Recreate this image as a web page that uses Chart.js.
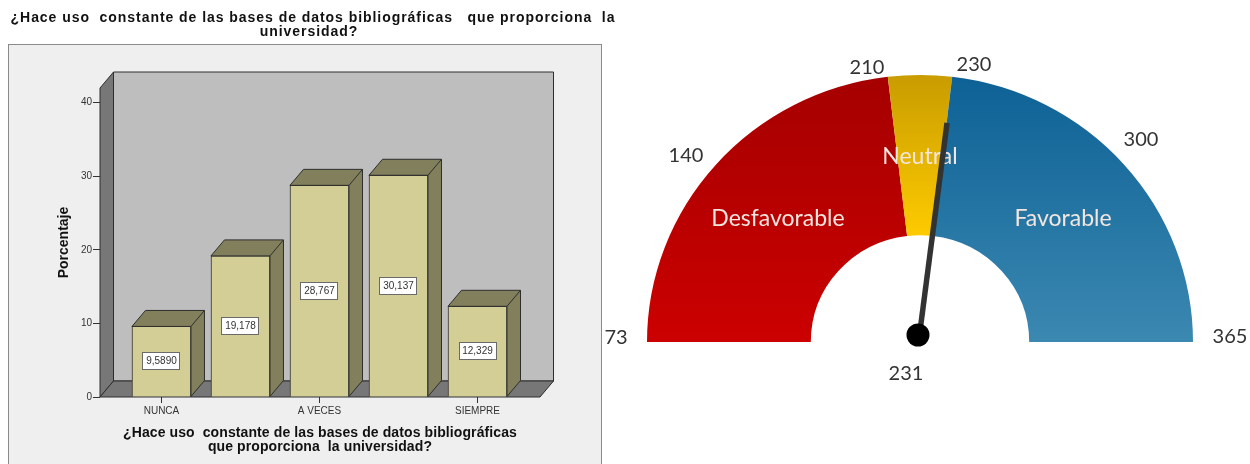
<!DOCTYPE html>
<html>
<head>
<meta charset="utf-8">
<script src="https://cdn.jsdelivr.net/npm/chart.js@4"></script>
<style>
  html, body { margin: 0; padding: 0; background: #fff; overflow: hidden; }
  canvas { position: absolute; top: 0; }
  #barChart { left: 0; }
  #gaugeChart { left: 600px; }
</style>
</head>
<body>
<canvas id="barChart" width="620" height="464"></canvas>
<canvas id="gaugeChart" width="650" height="464"></canvas>
<script>
// Bar chart data
const categories = ['NUNCA', '', 'A VECES', '', 'SIEMPRE'];
const percentages = [9.589, 19.178, 28.767, 30.137, 12.329];
const barTicks = [0, 2, 4];
const chartTitle = ['¿Hace uso  constante de las bases de datos bibliográficas   que proporciona  la', 'universidad?'];
const xTitle = ['¿Hace uso  constante de las bases de datos bibliográficas', 'que proporciona  la universidad?'];
const yTitle = 'Porcentaje';

// Gauge data
const gaugeNames = ['Desfavorable', 'Neutral', 'Favorable'];
const gaugeSpans = [135, 22, 135];
const gaugeMin = 73;
const gaugeMax = 365;
const gaugeValue = 231;
const gaugeTickLabels = ['73', '140', '210', '230', '300', '365', '231'];

// Pixel spots of the gauge texts, relative to the gauge centre
const tickSpots = [[-304, -4], [-234, -186], [-53, -274], [54, -277], [221, -202], [310, -5], [-14, 32]];
const nameSpots = [[-142, -123], [0, -185], [143, -123]];

const depthX = 13.5, depthY = 16;
const sans = '"Liberation Sans", Arial, sans-serif';

// Panel, back wall, side wall and floor behind the bars
const wallsPlugin = {
    id: 'walls',
    beforeDraw(chart) {
        const ctx = chart.ctx;
        ctx.save();
        ctx.fillStyle = '#efefef';
        ctx.strokeStyle = '#8a8a8a';
        ctx.lineWidth = 1;
        ctx.fillRect(8.5, 44.5, 593, 430);
        ctx.strokeRect(8.5, 44.5, 593, 430);
        ctx.restore();
    },
    beforeDatasetsDraw(chart) {
        const { ctx, chartArea: a } = chart;
        const poly = (pts, fill) => {
            ctx.beginPath();
            pts.forEach((p, i) => i ? ctx.lineTo(p[0], p[1]) : ctx.moveTo(p[0], p[1]));
            ctx.closePath();
            ctx.fillStyle = fill;
            ctx.fill();
            ctx.stroke();
        };
        ctx.save();
        ctx.strokeStyle = '#2e2e2e';
        ctx.lineWidth = 1;
        poly([[a.left + depthX, a.top - depthY], [a.right + depthX, a.top - depthY],
              [a.right + depthX, a.bottom - depthY], [a.left + depthX, a.bottom - depthY]], '#bebebe');
        poly([[a.left, a.top], [a.left + depthX, a.top - depthY],
              [a.left + depthX, a.bottom - depthY], [a.left, a.bottom]], '#777777');
        poly([[a.left, a.bottom], [a.left + depthX, a.bottom - depthY],
              [a.right + depthX, a.bottom - depthY], [a.right, a.bottom]], '#777777');
        ctx.restore();
    }
};

// Top and side faces of each bar, then the value box in its middle
const barFacesPlugin = {
    id: 'barFaces',
    afterDatasetsDraw(chart) {
        const ctx = chart.ctx;
        ctx.save();
        ctx.strokeStyle = '#2e2e2e';
        ctx.lineWidth = 1;
        chart.getDatasetMeta(0).data.forEach((bar, i) => {
            const l = bar.x - bar.width / 2, r = bar.x + bar.width / 2;
            const t = bar.y, b = bar.base;
            ctx.fillStyle = '#827f5c';
            ctx.beginPath();
            ctx.moveTo(l, t);
            ctx.lineTo(l + depthX, t - depthY);
            ctx.lineTo(r + depthX, t - depthY);
            ctx.lineTo(r + depthX, b - depthY);
            ctx.lineTo(r, b);
            ctx.lineTo(r, t);
            ctx.closePath();
            ctx.fill();
            ctx.stroke();
            ctx.beginPath();
            ctx.moveTo(r, t);
            ctx.lineTo(r + depthX, t - depthY);
            ctx.stroke();

            const text = percentages[i].toPrecision(5).replace('.', ',');
            const my = Math.round((t + b) / 2);
            ctx.fillStyle = '#fff';
            ctx.strokeStyle = '#6a6a6a';
            ctx.fillRect(Math.round(bar.x) - 18.5, my - 8.5, 37, 17);
            ctx.strokeRect(Math.round(bar.x) - 18.5, my - 8.5, 37, 17);
            ctx.strokeStyle = '#2e2e2e';
            ctx.fillStyle = '#333';
            ctx.font = '10px ' + sans;
            ctx.textAlign = 'center';
            ctx.textBaseline = 'middle';
            ctx.fillText(text, bar.x, my + 0.5);
        });
        ctx.restore();
    }
};

// Titles: the picture's text is stretched wide, Chart.js has no letter spacing option
const titlesPlugin = {
    id: 'titles',
    afterDraw(chart) {
        const { ctx, chartArea: a } = chart;
        const midX = (a.left + a.right) / 2;
        ctx.save();
        ctx.fillStyle = '#111';
        ctx.font = 'bold 14px ' + sans;
        ctx.textAlign = 'center';
        ctx.textBaseline = 'middle';
        ctx.letterSpacing = '0.95px';
        ctx.fillText(chartTitle[0], 313, 18);
        ctx.fillText(chartTitle[1], 309, 32.5);
        ctx.letterSpacing = '0.1px';
        ctx.fillText(xTitle[0], midX, 433);
        ctx.fillText(xTitle[1], midX, 447);
        ctx.translate(64.5, (a.top + a.bottom) / 2);
        ctx.rotate(-Math.PI / 2);
        ctx.letterSpacing = '0px';
        ctx.fillText(yTitle, 0, 0);
        ctx.restore();
    }
};

new Chart(document.getElementById('barChart'), {
    type: 'bar',
    data: {
        datasets: [{
            data: percentages.map((v, i) => ({ x: i, y: v })),
            backgroundColor: '#d3cd96',
            borderColor: '#2e2e2e',
            borderWidth: 1,
            barThickness: 59
        }]
    },
    options: {
        responsive: false,
        animation: false,
        layout: { padding: { left: 57, right: 80, top: 88, bottom: 0 } },
        plugins: {
            legend: { display: false },
            tooltip: { enabled: false }
        },
        scales: {
            x: {
                type: 'linear',
                offset: false,
                min: -0.778,
                max: 4.791,
                afterBuildTicks: s => { s.ticks = barTicks.map(value => ({ value })); },
                afterFit: s => { s.height = 67; },
                grid: { offset: false, drawOnChartArea: false, color: '#333', tickLength: 6 },
                border: { display: false },
                ticks: {
                    autoSkip: false,
                    maxRotation: 0,
                    padding: 2,
                    color: '#333',
                    font: { family: sans, size: 10 },
                    callback: v => categories[v]
                }
            },
            y: {
                min: 0,
                max: 42,
                afterFit: s => { s.width = 43; },
                grid: { drawOnChartArea: false, color: '#333', tickLength: 7 },
                border: { display: false },
                ticks: {
                    stepSize: 10,
                    includeBounds: false,
                    padding: 1,
                    color: '#333',
                    font: { family: sans, size: 10 }
                }
            }
        }
    },
    plugins: [wallsPlugin, barFacesPlugin, titlesPlugin]
});

// Vertical gradients for the gauge bands
const bandColors = [['#a50000', '#cc0000'], ['#c99c00', '#ffcc00'], ['#0d6195', '#3b88b1']];
const bandEnds = [1, 0.62, 1];
function bandFill(context) {
    const { ctx, chartArea } = context.chart;
    if (!chartArea) return bandColors[context.dataIndex][0];
    const i = context.dataIndex;
    const g = ctx.createLinearGradient(0, chartArea.top, 0, chartArea.bottom);
    g.addColorStop(0, bandColors[i][0]);
    g.addColorStop(bandEnds[i], bandColors[i][1]);
    return g;
}

// The arc in the picture is a little flatter than a true circle
const squashPlugin = {
    id: 'squash',
    beforeDatasetsDraw(chart) {
        const arc = chart.getDatasetMeta(0).data[0];
        chart.ctx.save();
        chart.ctx.translate(0, arc.y);
        chart.ctx.scale(1, 0.978);
        chart.ctx.translate(0, -arc.y);
    },
    afterDatasetsDraw(chart) {
        chart.ctx.restore();
    }
};

// Band names, scale numbers, needle and hub
const gaugeTextPlugin = {
    id: 'gaugeText',
    afterDraw(chart) {
        const ctx = chart.ctx;
        const arc = chart.getDatasetMeta(0).data[0];
        const cx = arc.x, cy = arc.y;
        ctx.save();
        ctx.textAlign = 'center';
        ctx.textBaseline = 'middle';
        ctx.font = '23px Lato, sans-serif';
        ctx.fillStyle = '#f3e6e0';
        gaugeNames.forEach((name, i) => ctx.fillText(name, cx + nameSpots[i][0], cy + nameSpots[i][1]));
        ctx.font = '20px Lato, sans-serif';
        ctx.fillStyle = '#333';
        gaugeTickLabels.forEach((label, i) => ctx.fillText(label, cx + tickSpots[i][0], cy + tickSpots[i][1]));

        const angle = (gaugeValue - gaugeMin) / (gaugeMax - gaugeMin) * Math.PI;
        const hx = cx - 2, hy = cy - 7;
        ctx.strokeStyle = '#333';
        ctx.lineWidth = 5.5;
        ctx.beginPath();
        ctx.moveTo(hx + 1.5, hy);
        ctx.lineTo(hx + 1.5 - 214 * Math.cos(angle), hy - 214 * Math.sin(angle));
        ctx.stroke();
        ctx.fillStyle = '#000';
        ctx.beginPath();
        ctx.arc(hx, hy, 11.5, 0, Math.PI * 2);
        ctx.fill();
        ctx.restore();
    }
};

new Chart(document.getElementById('gaugeChart'), {
    type: 'doughnut',
    data: {
        labels: gaugeNames,
        datasets: [{
            data: gaugeSpans,
            backgroundColor: bandFill,
            borderWidth: 0
        }]
    },
    options: {
        responsive: false,
        animation: false,
        rotation: -90,
        circumference: 180,
        cutout: '40%',
        layout: { padding: { left: 47, right: 57, top: 69, bottom: 122 } },
        plugins: {
            legend: { display: false },
            tooltip: { enabled: false }
        }
    },
    plugins: [squashPlugin, gaugeTextPlugin]
});
</script>
</body>
</html>
